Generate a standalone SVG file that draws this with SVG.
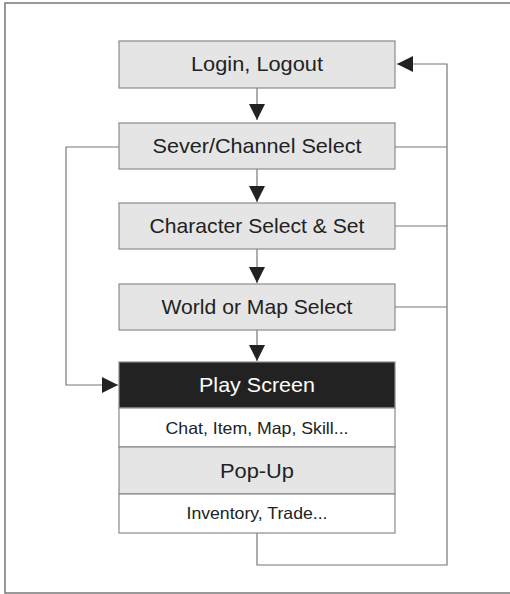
<svg xmlns="http://www.w3.org/2000/svg" width="510" height="594" viewBox="0 0 510 594">
<style>
.frame{fill:#fff;stroke:#777;stroke-width:1.5}
.box{fill:#e5e5e5;stroke:#8a8a8a;stroke-width:1.2}
.wbox{fill:#fff;stroke:#8a8a8a;stroke-width:1.2}
.dbox{fill:#222;stroke:#8a8a8a;stroke-width:1.2}
.t{font-family:"Liberation Sans",Arial,sans-serif;font-size:21px;fill:#222;text-anchor:middle}
.s{font-family:"Liberation Sans",Arial,sans-serif;font-size:16.5px;fill:#222;text-anchor:middle}
.w{fill:#fff}
.c{fill:none;stroke:#777;stroke-width:1.2}
</style>
<defs>
<marker id="ah" viewBox="0 0 16 16" markerWidth="16" markerHeight="16" refX="16" refY="8" orient="auto" markerUnits="userSpaceOnUse">
<path d="M0,0 L16,8 L0,16 Z" fill="#222"/>
</marker>
</defs>
<rect class="frame" x="5" y="3" width="510" height="590"/>
<g id="connectors">
<path class="c" d="M257,88 V120" marker-end="url(#ah)"/>
<path class="c" d="M257,169 V202" marker-end="url(#ah)"/>
<path class="c" d="M257,249 V283" marker-end="url(#ah)"/>
<path class="c" d="M257,330 V361" marker-end="url(#ah)"/>
<path class="c" d="M119,147 H66 V385 H118" marker-end="url(#ah)"/>
<path class="c" d="M395,147 H447"/>
<path class="c" d="M395,226 H447"/>
<path class="c" d="M395,307 H447"/>
<path class="c" d="M257,533 V565 H447 V64 H397" marker-end="url(#ah)"/>
</g>
<g id="login">
<rect class="box" x="119" y="41" width="276" height="47"/>
<text class="t" x="257" y="71" textLength="132" lengthAdjust="spacingAndGlyphs">Login, Logout</text>
</g>
<g id="server">
<rect class="box" x="119" y="123" width="276" height="46"/>
<text class="t" x="257" y="153" textLength="209" lengthAdjust="spacingAndGlyphs">Sever/Channel Select</text>
</g>
<g id="character">
<rect class="box" x="119" y="203" width="276" height="46"/>
<text class="t" x="257" y="233" textLength="215" lengthAdjust="spacingAndGlyphs">Character Select &amp; Set</text>
</g>
<g id="world">
<rect class="box" x="119" y="284" width="276" height="46"/>
<text class="t" x="257" y="314" textLength="191" lengthAdjust="spacingAndGlyphs">World or Map Select</text>
</g>
<g id="play">
<rect class="dbox" x="119" y="362" width="276" height="46"/>
<text class="t w" x="257" y="392" textLength="116" lengthAdjust="spacingAndGlyphs">Play Screen</text>
</g>
<g id="chat">
<rect class="wbox" x="119" y="408" width="276" height="39"/>
<text class="s" x="257" y="434" textLength="183" lengthAdjust="spacingAndGlyphs">Chat, Item, Map, Skill...</text>
</g>
<g id="popup">
<rect class="box" x="119" y="447" width="276" height="47"/>
<text class="t" x="257" y="478" textLength="74" lengthAdjust="spacingAndGlyphs">Pop-Up</text>
</g>
<g id="inventory">
<rect class="wbox" x="119" y="494" width="276" height="39"/>
<text class="s" x="257" y="519" textLength="141" lengthAdjust="spacingAndGlyphs">Inventory, Trade...</text>
</g>
</svg>
